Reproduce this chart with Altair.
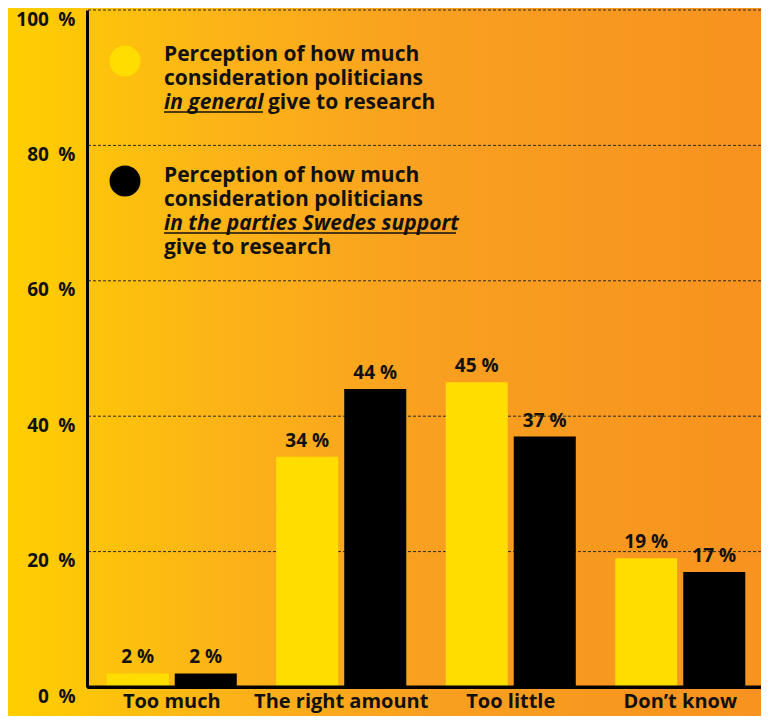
import altair as alt
import pandas as pd

# ---- data ----
categories = ["Too much", "The right amount", "Too little", "Don\u2019t know"]
series = ["general", "parties"]
general_values = [2, 34, 45, 19]
parties_values = [2, 44, 37, 17]
y_ticks = [0, 20, 40, 60, 80, 100]
grid_values = [20, 40, 60, 80, 100]

legend1_plain = ["Perception of how much", "consideration politicians"]
legend1_italic = "in general"
legend1_tail = "give to research"
legend2_plain = ["Perception of how much", "consideration politicians"]
legend2_italic = "in the parties Swedes support"
legend2_tail = "give to research"

# ---- layout ----
W, H = 674, 677
FONT = "Open Sans"
TXT = "#111111"
YELLOW = "#FFDD00"

rows = []
for c, g, p in zip(categories, general_values, parties_values):
    rows.append({"category": c, "series": "general", "value": g, "label": f"{g} %"})
    rows.append({"category": c, "series": "parties", "value": p, "label": f"{p} %"})
df = pd.DataFrame(rows)

y_axis = alt.Axis(title=None, values=y_ticks, labelExpr="datum.value + '\u2002%'", grid=False,
                  ticks=False, domain=True, domainColor="#000", domainWidth=3,
                  labelFont=FONT, labelFontSize=19, labelFontWeight="bold", labelColor=TXT,
                  labelPadding=12, labelBaseline="top", labelOffset=0, zindex=2)
x_axis = alt.Axis(title=None, labelAngle=0, ticks=False, domain=True, domainColor="#000000",
                  domainWidth=3, labelLimit=400,
                  labelFont=FONT, labelFontSize=20, labelFontWeight="bold", labelColor=TXT,
                  labelPadding=4, zindex=2)

x_enc = alt.X("category:N", sort=categories,
              scale=alt.Scale(paddingInner=0, paddingOuter=0, range=[0, 678]), axis=x_axis)
xoff_enc = alt.XOffset("series:N", sort=series,
                       scale=alt.Scale(paddingInner=0.088, paddingOuter=0.29))
y_enc = alt.Y("value:Q", scale=alt.Scale(domain=[0, 100]), axis=y_axis)
color_enc = alt.Color("series:N", scale=alt.Scale(domain=series, range=[YELLOW, "#000000"]), legend=None)

one = pd.DataFrame({"a": [0]})

background = alt.Chart(one).mark_rect(
    color=alt.LinearGradient(
        gradient="linear",
        stops=[alt.GradientStop(color="#FFD000", offset=0),
               alt.GradientStop(color="#FCB417", offset=0.28),
               alt.GradientStop(color="#F9A020", offset=0.55),
               alt.GradientStop(color="#F7921E", offset=1)],
        x1=0, x2=1, y1=0, y2=0),
).encode(x=alt.value(-87), x2=alt.value(682), y=alt.value(-10), y2=alt.value(730))

grid = alt.Chart(pd.DataFrame({"value": grid_values})).mark_rule(
    color="#2a2a2a", strokeWidth=1, strokeDash=[3, 2]
).encode(y=alt.Y("value:Q", scale=alt.Scale(domain=[0, 100]), axis=y_axis))

bars = alt.Chart(df).mark_bar().encode(x=x_enc, xOffset=xoff_enc, y=y_enc, color=color_enc)

# x base line spanning the full plot width (at value 0)
base = alt.Chart(one).mark_rule(color="#000000", strokeWidth=3).encode(
    y=alt.datum(0), x=alt.value(0), x2=alt.value(W))

bar_labels = alt.Chart(df).mark_text(
    font=FONT, fontSize=19, fontWeight="bold", color=TXT, baseline="alphabetic", dy=-10
).encode(x=x_enc, xOffset=xoff_enc, y=y_enc, text="label:N")

# ---- custom legend ----
LX = 77
LH = 24
LFS = 21


def text_layer(txt, x, y, italic=False):
    return alt.Chart(one).mark_text(
        text=txt, font=FONT, fontSize=LFS, fontWeight="bold",
        fontStyle="italic" if italic else "normal", color=TXT,
        align="left", baseline="alphabetic",
    ).encode(x=alt.value(x), y=alt.value(y))


def underline(x1, x2, y):
    return alt.Chart(one).mark_rule(color=TXT, strokeWidth=1.5).encode(
        x=alt.value(x1), x2=alt.value(x2), y=alt.value(y))


legend_layers = []
dot1 = alt.Chart(one).mark_circle(size=960, color=YELLOW, opacity=1).encode(x=alt.value(38), y=alt.value(51))
dot2 = alt.Chart(one).mark_circle(size=960, color="#000000", opacity=1).encode(x=alt.value(38), y=alt.value(171))
legend_layers += [dot1, dot2]

top1 = 51
for i, t in enumerate(legend1_plain):
    legend_layers.append(text_layer(t, LX, top1 + i * LH))
legend_layers.append(text_layer(legend1_italic, LX, top1 + 2 * LH, italic=True))
legend_layers.append(text_layer(legend1_tail, LX + 104, top1 + 2 * LH))
legend_layers.append(underline(LX, LX + 99, top1 + 2 * LH + 3))

top2 = 172
for i, t in enumerate(legend2_plain):
    legend_layers.append(text_layer(t, LX, top2 + i * LH))
legend_layers.append(text_layer(legend2_italic, LX, top2 + 2 * LH, italic=True))
legend_layers.append(underline(LX, LX + 292, top2 + 2 * LH + 3))
legend_layers.append(text_layer(legend2_tail, LX, top2 + 3 * LH))

chart = alt.layer(background, grid, bars, base, bar_labels, *legend_layers).properties(
    width=W, height=H,
    autosize=alt.AutoSizeParams(type="none"),
    padding={"left": 79, "top": 2, "right": 0, "bottom": 29},
    background="#F9A020",
).configure_view(stroke=None)

chart.save("out.html", embed_options={"renderer": "svg", "actions": False})
